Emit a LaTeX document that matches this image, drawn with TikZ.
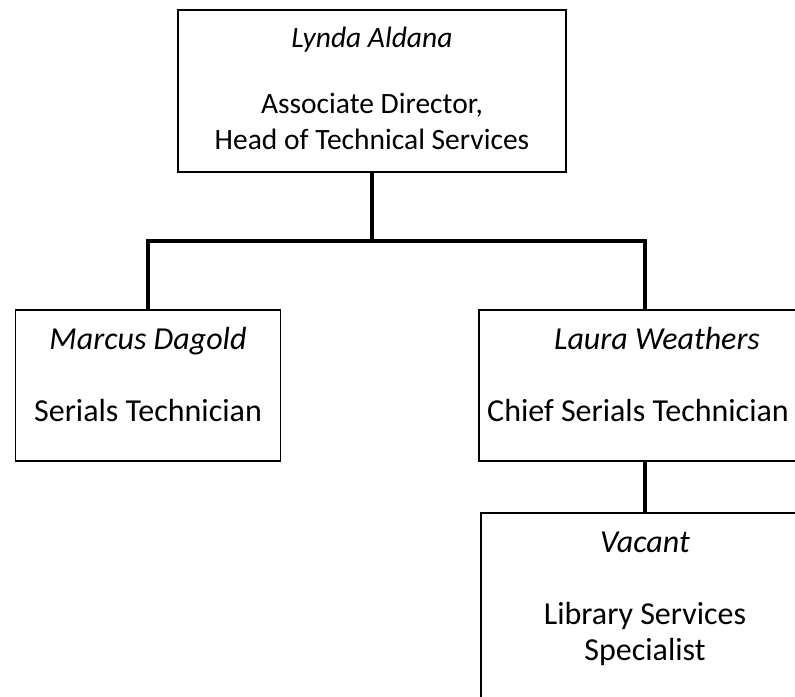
\documentclass[tikz,border=0pt]{standalone}
\usepackage{fontspec}
\setmainfont{Carlito}
\usetikzlibrary{positioning}
\usetikzlibrary{calc}

\tikzset{
  post/.style={draw, rectangle, line width=1.6pt, inner sep=0pt},
  posttext/.style={align=center, inner sep=0pt, anchor=north, font=\fontsize{32}{36}\selectfont},
  headtext/.style={posttext, font=\fontsize{29.5}{36}\selectfont},
  link/.style={line width=4.5pt},
}

\begin{document}
\begin{tikzpicture}[x=1pt, y=-1pt]
  \useasboundingbox (0,0) rectangle (795,696);
  \clip (0,0) rectangle (795,696);

  %---------------------------------------
  % Boxes
  %---------------------------------------
  \node[post, minimum width=388pt, minimum height=162pt] (lynda)  at (372,91)    {};
  \node[post, minimum width=265pt, minimum height=151pt] (marcus) at (148,385.5) {};
  \node[post, minimum width=332pt, minimum height=151pt] (laura)  at (645,385.5) {};
  \node[post, minimum width=328pt, minimum height=200pt] (vacant) at (645,613)   {};

  %---------------------------------------
  % Texts (strut top just under the top edge)
  %---------------------------------------
  \node[headtext] (lyndaText) at ($(lynda.north)+(0,12.8)$)
    {\strut\textit{Lynda Aldana}\\[30pt] Associate Director,\\ Head of Technical Services};
  \node[posttext] (marcusText) at ($(marcus.north)+(0,15)$)
    {\strut\textit{Marcus Dagold}\\[36pt] Serials Technician};
  \node[posttext] (lauraText) at ($(laura.north)+(-7,15)$)
    {\strut\hspace*{38pt}\textit{Laura Weathers}\\[36pt] Chief Serials Technician};
  \node[posttext] (vacantText) at ($(vacant.north)+(0,15)$)
    {\strut\textit{Vacant}\\[36pt] Library Services\\ Specialist};

  %---------------------------------------
  % Connectors
  %---------------------------------------
  \coordinate (bus) at ($(lynda.south)+(0,68)$);
  \draw[link] (lynda.south) -- (bus);
  \draw[link] (marcus.north) |- (bus) -| (laura.north);
  \draw[link] (laura.south) -- (vacant.north);
\end{tikzpicture}
\end{document}
